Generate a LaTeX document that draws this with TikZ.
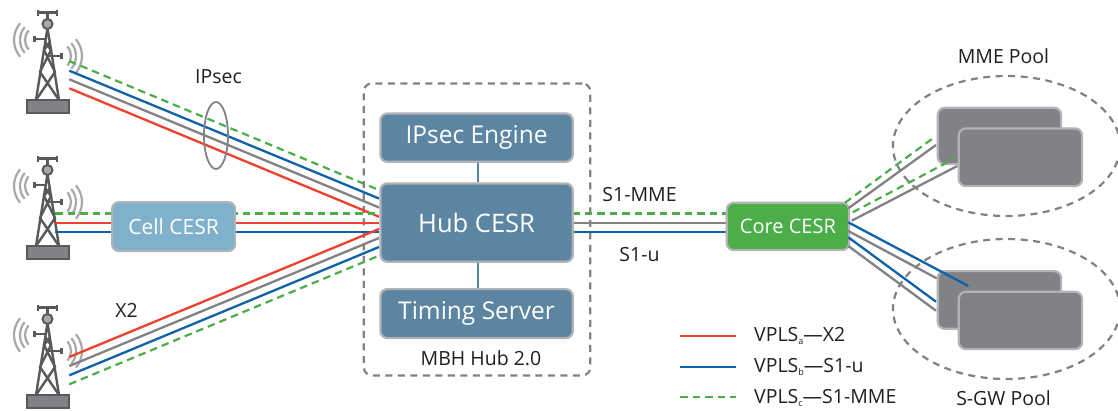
\documentclass[tikz,border=0pt]{standalone}
\usepackage{fontspec}
\setmainfont{Open Sans}
\usetikzlibrary{calc}
\definecolor{cred}{HTML}{EE4130}
\definecolor{cblue}{HTML}{0E62A8}
\definecolor{cgreen}{HTML}{4CAE48}
\definecolor{cgray}{HTML}{808285}
\definecolor{cdark}{HTML}{58595B}
\definecolor{cwave}{HTML}{A7A9AC}
\definecolor{cborder}{HTML}{B1B3B6}
\definecolor{chub}{HTML}{5B85A1}
\definecolor{ccell}{HTML}{7FB0CC}
\definecolor{ctext}{HTML}{231F20}
\tikzset{
  x=1pt,y=-1pt,
  redline/.style={draw=cred,line width=2.3pt},
  blueline/.style={draw=cblue,line width=2.3pt},
  grayline/.style={draw=cgray,line width=2.3pt},
  greenline/.style={draw=cgreen,line width=2.2pt,dash pattern=on 7.5pt off 5pt},
  boxbase/.style={rectangle,rounded corners=7pt,draw=cborder,line width=2.2pt,inner sep=0pt,text=white,anchor=north west},
  hubbox/.style={boxbase,fill=chub,font=\fontsize{24.5}{26}\selectfont},
  serverbox/.style={boxbase,fill=cgray},
  lab/.style={text=ctext,font=\fontsize{19.5}{22}\selectfont,inner sep=0pt},
  dashgray/.style={draw=cgray,line width=2.2pt,dash pattern=on 7pt off 5.5pt},
  wave/.style={draw=cwave,line width=2.2pt},
  tw/.style={draw=cdark,line width=2.4pt}
}
\newcommand{\celltower}[1]{%
\begin{scope}[shift={(0,#1)}]
  \foreach \r in {15,20,26}{
    \draw[wave] (40,40) ++(140:\r pt) arc[start angle=140,end angle=220,radius=\r pt];
    \draw[wave] (56,56) ++(-40:\r pt) arc[start angle=-40,end angle=40,radius=\r pt];
  }
  \draw[tw] (38,12.3)--(57,12.3) (38,9.5)--(38,15.5) (57,9.5)--(57,15.5) (47.5,12.3)--(47.5,20);
  \draw[tw] (34.5,39)--(46,39) (34.5,36)--(34.5,42);
  \draw[tw] (49,56)--(61.5,56) (61.5,53)--(61.5,59);
  \draw[tw] (36,100)--(47.5,28)--(59,100);
  \draw[tw] (36,100)--(55,72)--(44,50)--(50,42) (59,100)--(40,72)--(51,50)--(45,42);
  \draw[tw,fill=cwave,line width=2pt] (47.5,24) circle (5pt);
  \draw[draw=cdark,fill=cgray,line width=2.2pt] (27,100) rectangle (69,113);
\end{scope}}
\begin{document}
\begin{tikzpicture}
\useasboundingbox (0,0) rectangle (1118,410);
\fill[white] (0,0) rectangle (1118,410);

% pool ellipses
\node[draw=none,inner sep=0pt] (mmepool) at (1006.5,146) {};
\node[draw=none,inner sep=0pt] (gwpool) at (1006.5,309) {};
\begin{scope}
\clip (0,0) rectangle (1118,410);
\draw[dashgray] (mmepool.center) ellipse [x radius=113.5pt,y radius=70pt];
\draw[dashgray] (gwpool.center) ellipse [x radius=113.5pt,y radius=70pt];
\end{scope}

% hub frame
\node[rectangle,draw=cgray,line width=2.2pt,dash pattern=on 7pt off 5.5pt,rounded corners=8pt,inner sep=0pt,anchor=north west,minimum width=226.5pt,minimum height=292pt] (frame) at (362.7,82.3) {};

\celltower{0}
\celltower{146}
\celltower{295}

% named line ends
\coordinate (t1g) at (69,61);   \coordinate (t1b) at (69.3,70.7);
\coordinate (t1y) at (69.3,79.3); \coordinate (t1r) at (69.3,88.3);
\coordinate (t2g) at (55,213.5); \coordinate (t2r) at (55,222.7); \coordinate (t2b) at (55,232);
\coordinate (t3r) at (69.3,357); \coordinate (t3y) at (69.3,366);
\coordinate (t3b) at (69.3,375.3); \coordinate (t3g) at (69.3,384.3);
\coordinate (h1g) at (379,190);  \coordinate (h1b) at (379,198.5);
\coordinate (h1y) at (379,207.5); \coordinate (h1r) at (379,216.7);
\coordinate (h2g) at (379,213.5); \coordinate (h2r) at (379,222.7); \coordinate (h2b) at (379,232);
\coordinate (h3r) at (379,229); \coordinate (h3y) at (379,238);
\coordinate (h3b) at (379,247); \coordinate (h3g) at (379,255.7);
\coordinate (hr1) at (572,213.5); \coordinate (hr2) at (572,222.7); \coordinate (hr3) at (572,232);
\coordinate (cl1) at (726,213.5); \coordinate (cl2) at (726,222.7); \coordinate (cl3) at (726,232);

% IPsec ring + radio links
\draw[greenline] (t1g)--(h1g);
\draw[blueline] (t1b)--(h1b);
\draw[grayline] (t1y)--(h1y);
\draw[redline] (t1r)--(h1r);
\draw[greenline] (t2g)--(h2g);
\draw[redline] (t2r)--(h2r);
\draw[blueline] (t2b)--(h2b);
\draw[redline] (t3r)--(h3r);
\draw[grayline] (t3y)--(h3y);
\draw[blueline] (t3b)--(h3b);
\draw[greenline] (t3g)--(h3g);
\node[draw=none,inner sep=0pt] (ring) at (216,135.5) {};
\draw[draw=cgray,line width=1.8pt] (ring.center) ellipse [x radius=12pt,y radius=33.5pt];

% hub to core
\draw[greenline] (hr1)--(cl1);
\draw[grayline] (hr2)--(cl2);
\draw[blueline] (hr3)--(cl3);

% boxes
\node[hubbox,minimum width=192.4pt,minimum height=48.4pt] (ipsec) at (379.3,112.3) {IPsec Engine};
\node[hubbox,minimum width=192.4pt,minimum height=78.4pt,font=\fontsize{25.5}{27}\selectfont] (hub) at (379.3,182.3) {Hub CESR};
\node[hubbox,minimum width=192.4pt,minimum height=49pt] (timing) at (379.3,288) {Timing Server};
\node[boxbase,fill=ccell,minimum width=123pt,minimum height=49pt,font=\fontsize{21}{23}\selectfont] (cell) at (111,201) {Cell CESR};
\node[boxbase,fill=cgreen,minimum width=122.3pt,minimum height=47.3pt,font=\fontsize{20}{22}\selectfont] (core) at (725.7,201.7) {Core CESR};
\draw[draw=chub,line width=1.8pt] (ipsec.south -| 478,0)--(hub.north -| 478,0);
\draw[draw=chub,line width=1.8pt] (hub.south -| 478,0)--(timing.north -| 478,0);

% servers
\node[serverbox,minimum width=123.3pt,minimum height=56.3pt] (m1) at (936.7,106.7) {};
\node[serverbox,minimum width=123.3pt,minimum height=57.7pt] (s1) at (936.7,270) {};

\coordinate (c1) at (848.3,208.3);  \coordinate (c2) at (845,202.7);
\coordinate (c3) at (851.7,220.7);  \coordinate (c4) at (852.7,212.3);
\coordinate (c5) at (848.3,222.3);  \coordinate (c6) at (848.3,231);
\coordinate (c7) at (848.3,237.3);  \coordinate (c8) at (848.3,246);
\coordinate (m1a) at (936,145);     \coordinate (m1b) at (935,136.7);
\coordinate (m2a) at (957.3,166);   \coordinate (m2b) at (955,158.3);
\coordinate (s1a) at (968.3,286);   \coordinate (s1b) at (936.7,278.3);
\coordinate (s1c) at (936,301.7);   \coordinate (s1d) at (936,310.7);
\draw[grayline] (c1)--(m1a);
\draw[greenline] (c2)--(m1b);
\draw[grayline] (c3)--(m2a);
\draw[greenline] (c4)--(m2b);
\draw[grayline] (c6)--(s1b);
\draw[blueline] (c7)--(s1c);
\draw[grayline] (c8)--(s1d);
\draw[blueline] (c5)--(s1a);

\node[serverbox,minimum width=123.3pt,minimum height=57.7pt] (m2) at (957.7,127.3) {};
\node[serverbox,minimum width=123.3pt,minimum height=57.3pt] (s2) at (957.7,290.7) {};

% labels
\node[lab] (tipsec) at (218.5,76.5) {IPsec};
\node[lab] (tx2) at (126.5,310.5) {X2};
\node[lab] (tmbh) at (481,358.5) {MBH Hub 2.0};
\node[lab] (ts1m) at (639.5,195) {S1-MME};
\node[lab] (ts1u) at (639.5,254.5) {S1-u};
\node[lab] (tmme) at (1003.5,56.5) {MME Pool};
\node[lab] (tgw) at (1003.5,398.5) {S-GW Pool};

% legend
\coordinate (la1) at (680,336);   \coordinate (la2) at (735.7,336);
\coordinate (lb1) at (680,366.7); \coordinate (lb2) at (735.7,366.7);
\coordinate (lc1) at (680,397);   \coordinate (lc2) at (735.7,397);
\draw[redline] (la1)--(la2);
\draw[blueline] (lb1)--(lb2);
\draw[greenline] (lc1)--(lc2);
\node[lab,anchor=west] (lega) at (754,336) {VPLS\raisebox{-3.5pt}{\fontsize{9}{10}\selectfont a}—X2};
\node[lab,anchor=west] (legb) at (754,367) {VPLS\raisebox{-3.5pt}{\fontsize{9}{10}\selectfont b}—S1-u};
\node[lab,anchor=west] (legc) at (754,398) {VPLS\raisebox{-3.5pt}{\fontsize{9}{10}\selectfont c}—S1-MME};
\end{tikzpicture}
\end{document}
